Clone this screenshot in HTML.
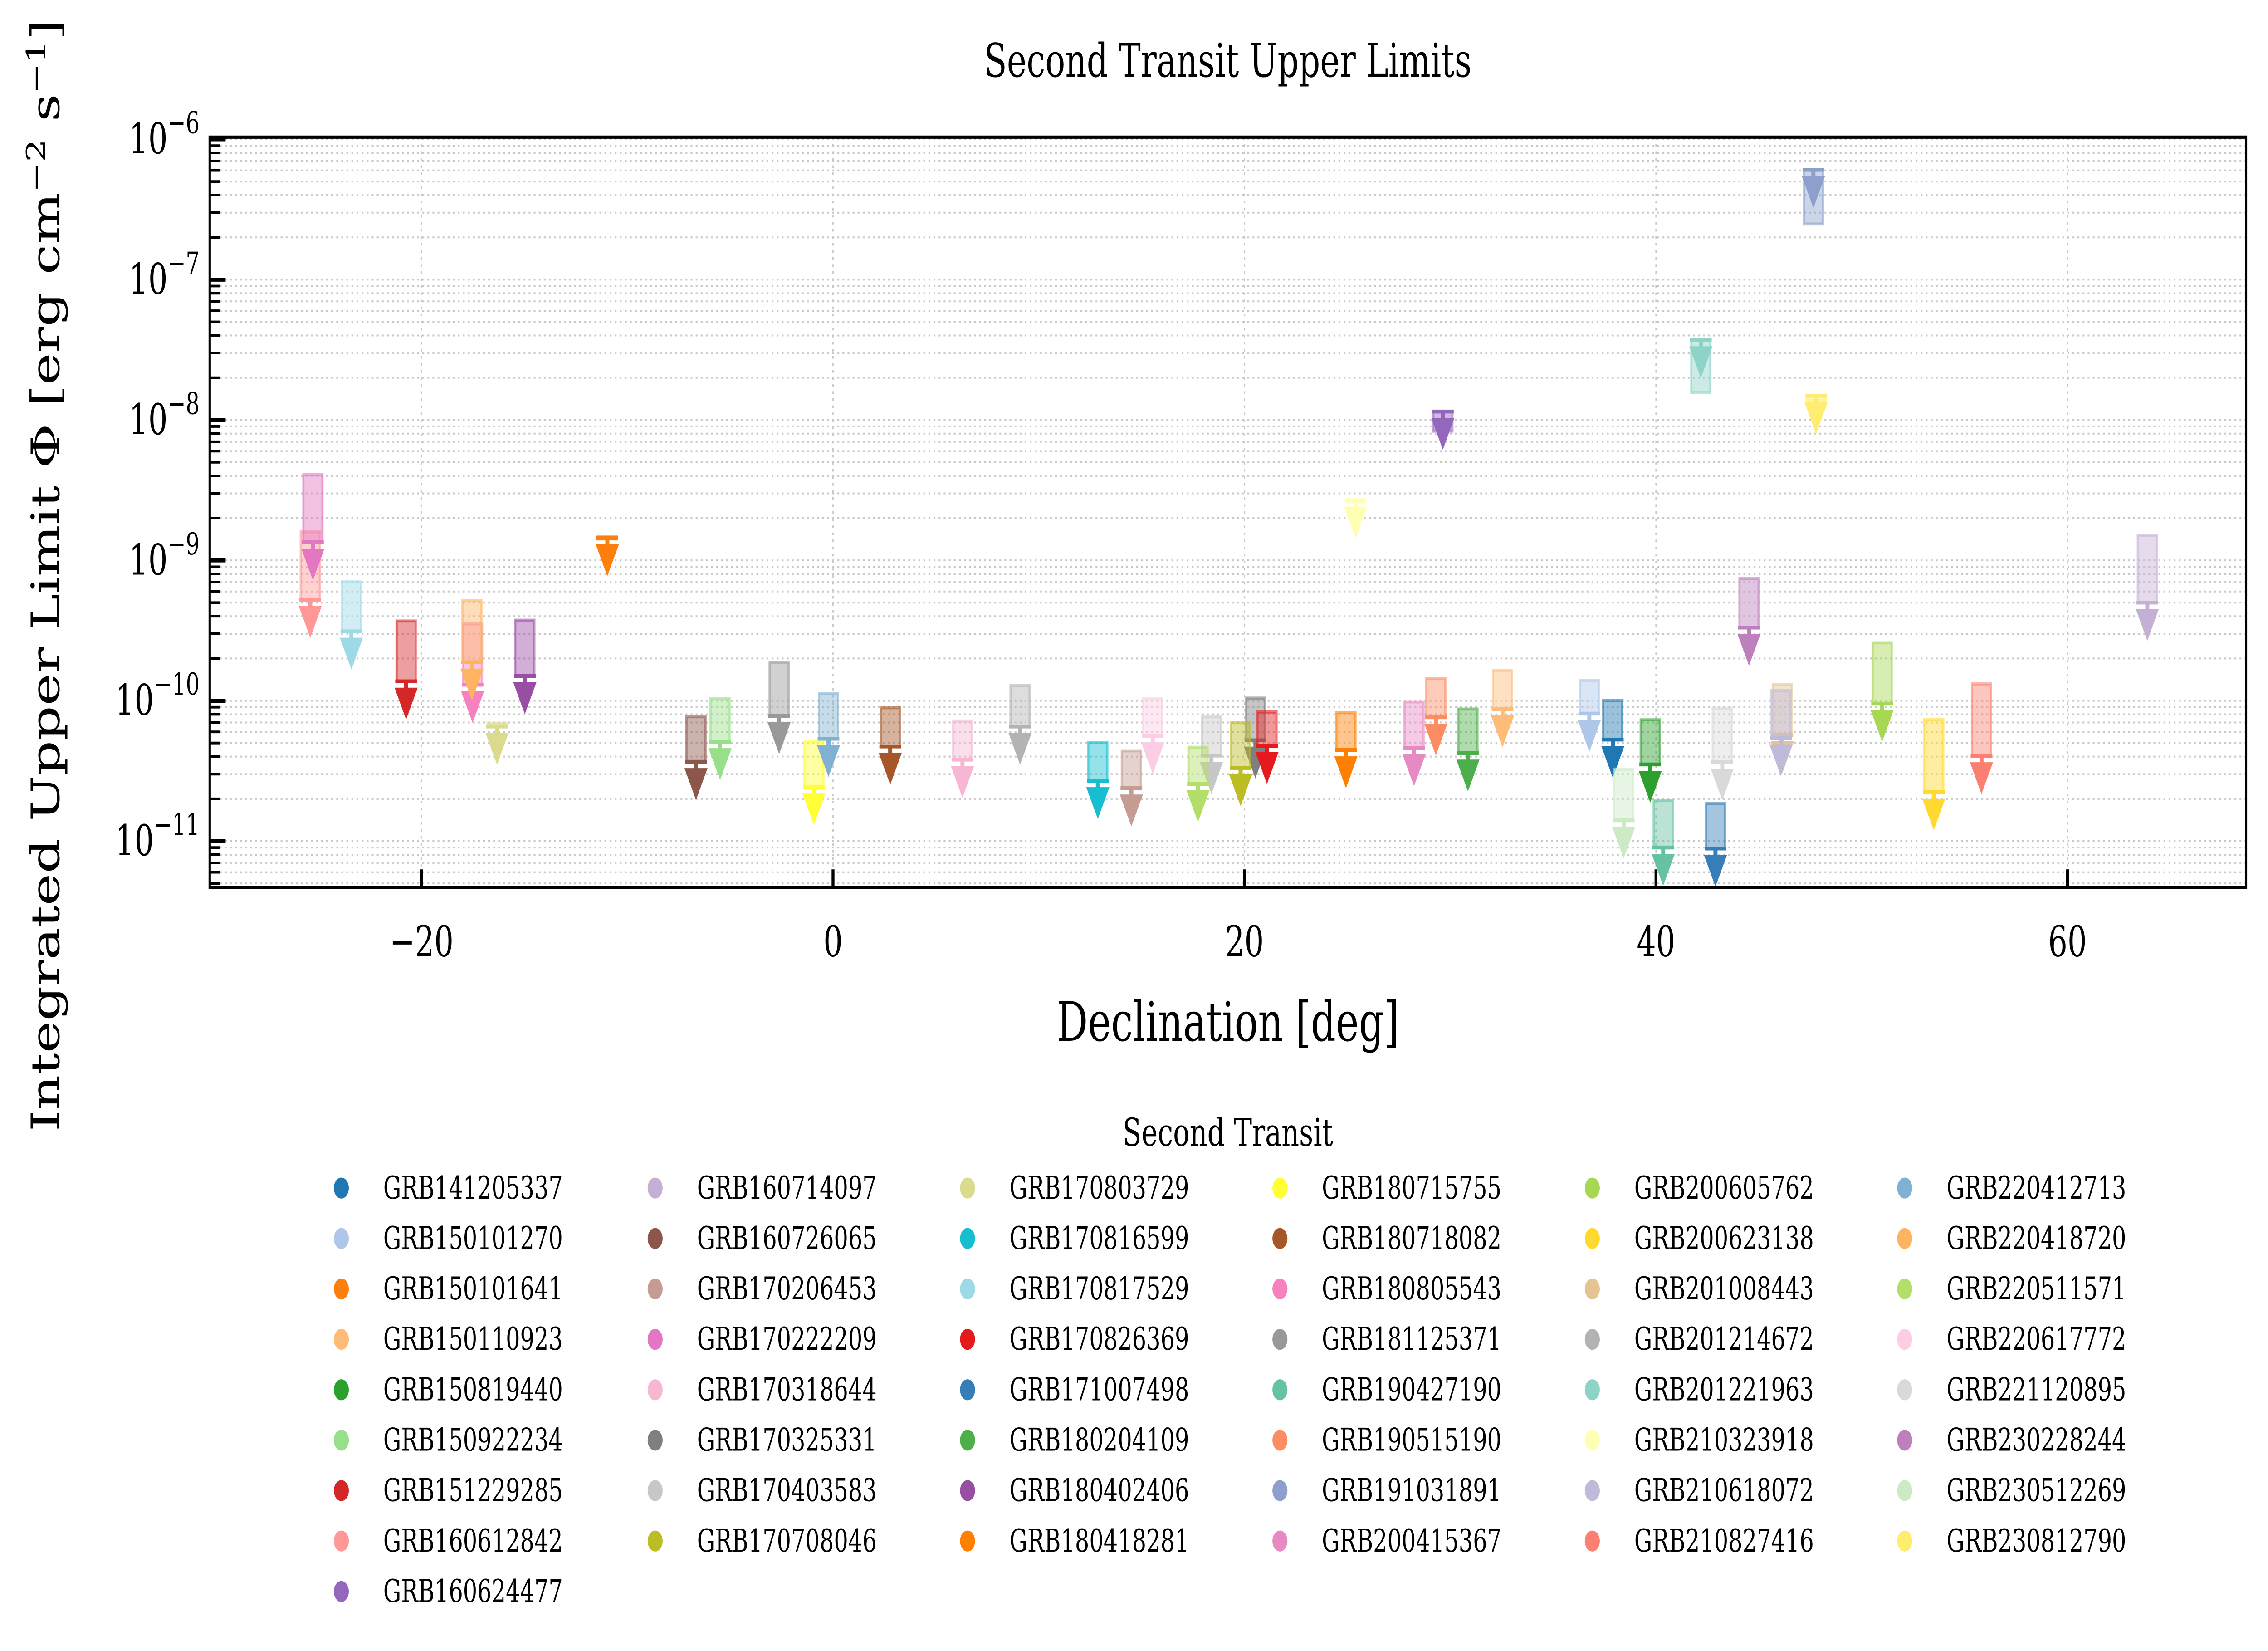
<!DOCTYPE html>
<html><head><meta charset="utf-8"><style>
html,body{margin:0;padding:0;background:#fff;width:100vw;height:100vh;overflow:hidden;}
svg{display:block;position:absolute;left:0;top:0;width:100vw;height:100vh;}
text{font-family:"DejaVu Serif","Liberation Serif",serif;fill:#000;}
</style></head><body>
<svg id="chart" viewBox="0 0 1568.2 818.5" preserveAspectRatio="none" xmlns="http://www.w3.org/2000/svg">
<rect x="0" y="0" width="1568.2" height="818.5" fill="#fff"/>
<g id="root">
<text x="849" y="38" font-size="23" text-anchor="middle">Second Transit Upper Limits</text>
<g id="grid"></g>
<g id="marks"></g>
<g id="axes"></g>
<text x="849" y="516" font-size="27" text-anchor="middle">Declination [deg]</text>
<text transform="translate(41,561) rotate(-90)" font-size="27" text-anchor="start">Integrated Upper Limit Φ [erg cm<tspan dy="-10" font-size="18">−2</tspan><tspan dy="10"> s</tspan><tspan dy="-10" font-size="18">−1</tspan><tspan dy="10">]</tspan></text>
<text x="849" y="568" font-size="19" text-anchor="middle">Second Transit</text>
<g id="legend"></g>
</g>
</svg>
<script>
const names = ["GRB141205337","GRB150101270","GRB150101641","GRB150110923","GRB150819440","GRB150922234","GRB151229285","GRB160612842","GRB160624477","GRB160714097","GRB160726065","GRB170206453","GRB170222209","GRB170318644","GRB170325331","GRB170403583","GRB170708046","GRB170803729","GRB170816599","GRB170817529","GRB170826369","GRB171007498","GRB180204109","GRB180402406","GRB180418281","GRB180715755","GRB180718082","GRB180805543","GRB181125371","GRB190427190","GRB190515190","GRB191031891","GRB200415367","GRB200605762","GRB200623138","GRB201008443","GRB201214672","GRB201221963","GRB210323918","GRB210618072","GRB210827416","GRB220412713","GRB220418720","GRB220511571","GRB220617772","GRB221120895","GRB230228244","GRB230512269","GRB230812790"];
const colors = ["#1f77b4","#aec7e8","#ff7f0e","#ffbb78","#2ca02c","#98df8a","#d62728","#ff9896","#9467bd","#c5b0d5","#8c564b","#c49c94","#e377c2","#f7b6d2","#7f7f7f","#c7c7c7","#bcbd22","#dbdb8d","#17becf","#9edae5","#e41a1c","#377eb8","#4daf4a","#984ea3","#ff7f00","#ffff33","#a65628","#f781bf","#999999","#66c2a5","#fc8d62","#8da0cb","#e78ac3","#a6d854","#ffd92f","#e5c494","#b3b3b3","#8dd3c7","#ffffb3","#bebada","#fb8072","#80b1d3","#fdb462","#b3de69","#fccde5","#d9d9d9","#bc80bd","#ccebc5","#ffed6f"];
const declinations = [37.9,36.76,-10.97,32.54,39.72,-5.49,-20.75,-25.41,29.64,63.88,-6.66,14.5,-25.28,6.29,20.53,18.39,19.81,-16.33,12.87,-23.41,21.09,42.89,30.86,-14.98,24.93,-0.93,2.78,-17.52,-2.62,40.35,29.3,47.65,28.24,50.99,53.5,46.14,9.09,42.18,25.4,46.07,55.82,-0.22,-17.55,17.74,15.54,43.22,44.52,38.43,47.78];
const logLimits = [-10.276,-10.091,-8.84,-10.059,-10.453,-10.292,-9.861,-9.279,-7.939,-9.3,-10.434,-10.622,-8.87,-10.419,-10.281,-10.39,-10.478,-10.183,-10.57,-9.505,-10.32,-11.052,-10.373,-9.823,-10.35,-10.612,-10.325,-9.885,-10.107,-11.045,-10.117,-6.217,-10.336,-10.02,-10.65,-10.243,-10.183,-7.429,-8.571,-10.264,-10.392,-10.27,-9.725,-10.592,-10.25,-10.437,-9.478,-10.851,-7.827];
const logBarEnds = [-9.998,-9.854,-8.83,-9.783,-10.136,-9.984,-9.432,-8.796,-8.079,-8.82,-10.114,-10.357,-8.389,-10.144,-9.981,-10.114,-10.156,-10.16,-10.297,-9.153,-10.08,-10.733,-10.059,-9.426,-10.085,-10.288,-10.05,-9.452,-9.725,-10.71,-9.842,-6.604,-10.008,-9.587,-10.134,-9.886,-9.892,-7.805,-8.587,-9.928,-9.88,-9.948,-9.286,-10.331,-9.984,-10.053,-9.13,-10.487,-7.86];
const xTicks = [-20,0,20,40,60];
const yTickExps = [-6,-7,-8,-9,-10,-11];

const NS = "http://www.w3.org/2000/svg";
const L = 145, R = 1553, T = 68, B = 440;
function xs(d){ return 576 + d*14.226; }
function ys(lg){ return 69.05 + (-6 - lg)*69.59; }
function mk(tag, attrs, parent){ const e=document.createElementNS(NS,tag); for(const k in attrs) e.setAttribute(k, attrs[k]); parent.appendChild(e); return e; }

const grid = document.getElementById('grid');
const axes = document.getElementById('axes');
for (let e=-12; e<=-6; e++){
  for (let m=1; m<=9; m++){
    const lg = e + Math.log10(m);
    const y = ys(lg);
    if (y < T-0.5 || y > B+0.5) continue;
    const gl = mk('line',{x1:L,x2:R,y1:y,y2:y,stroke:'#c8c8c8','stroke-width':0.9,'stroke-dasharray':'1.3 2.2'},grid);
    
    
    const tk = mk('line',{x1:L,x2:L+(m===1?11:7),y1:y,y2:y,stroke:'#000','stroke-width':m===1?2:1.3},axes);
    
    
  }
}
yTickExps.forEach(e=>{
  const y = ys(e);
  const t = mk('text',{x:L-7,y:y+7,'font-size':21,'text-anchor':'end'},axes);
  
  
  t.textContent = '10';
  const s = mk('tspan',{dy:-10,'font-size':15},t);
  s.textContent = '\u2212' + (-e);
});
xTicks.forEach(d=>{
  const x = xs(d);
  const gl = mk('line',{x1:x,x2:x,y1:T,y2:B,stroke:'#c8c8c8','stroke-width':0.9,'stroke-dasharray':'1.3 2.2'},grid);
  
  
  const tk = mk('line',{x1:x,x2:x,y1:B,y2:B-9,stroke:'#000','stroke-width':2},axes);
  
  
  const t = mk('text',{x:x,y:474,'font-size':21,'text-anchor':'middle'},axes);
  
  
  t.textContent = (d<0?'\u2212':'') + Math.abs(d);
});
const frame = mk('rect',{x:L,y:T,width:R-L,height:B-T,fill:'none',stroke:'#000','stroke-width':1.6},axes);



const marks = document.getElementById('marks');
names.forEach((n,i)=>{
  const g = mk('g',{},marks);
  
  
  const c = colors[i], x = xs(declinations[i]);
  const yl = ys(logLimits[i]), ye = ys(logBarEnds[i]);
  const y0 = Math.min(yl,ye), h = Math.max(Math.abs(yl-ye),1.2);
  const bar = mk('rect',{x:x-6.6,y:y0,width:13.2,height:h,fill:c,'fill-opacity':0.45,stroke:c,'stroke-opacity':0.6,'stroke-width':1.5},g);
  
  
  const cap = mk('rect',{x:x-7.5,y:yl-0.9,width:15,height:1.9,fill:c},g);
  
  
  const stem = mk('rect',{x:x-1.4,y:yl,width:2.8,height:3.5,fill:c},g);
  
  
  const tri = mk('polygon',{points:`${x-8},${yl+3.2} ${x+8},${yl+3.2} ${x},${yl+19}`,fill:c},g);
  
  
});

const leg = document.getElementById('legend');
const colX = [236,453,669,885,1101,1317];
let idx = 0;
for (let col=0; col<6; col++){
  const rows = col===0 ? 9 : 8;
  for (let r=0; r<rows && idx<names.length; r++, idx++){
    const y = 589 + r*25;
    const g = mk('g',{},leg);
    
    
    const dot = mk('circle',{cx:colX[col],cy:y,r:5.2,fill:colors[idx]},g);
    
    
    const t = mk('text',{x:colX[col]+29,y:y+5.2,'font-size':15.5},g);
    
    
    t.textContent = names[idx];
  }
}
</script>
</body></html>
